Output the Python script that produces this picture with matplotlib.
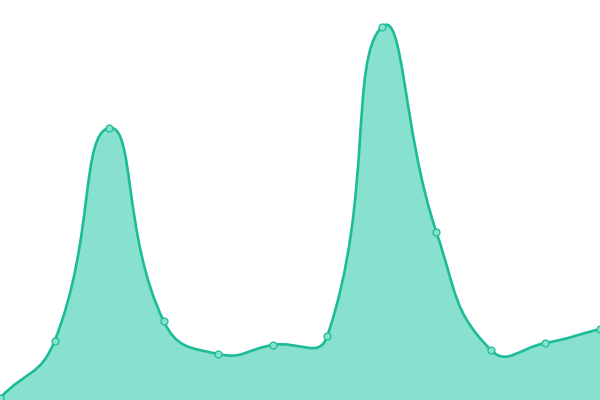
import numpy as np
import matplotlib
matplotlib.use("Agg")
import matplotlib.pyplot as plt
from matplotlib.path import Path
from matplotlib.patches import PathPatch

# data
x_vals = list(range(12))
y_vals = [2, 59, 272, 79, 46, 55, 64, 373, 168, 50, 57, 71]

line_color = "#1dbc97"
fill_color = "#88e0cf"
smooth = 0.5

fig = plt.figure(figsize=(6, 4), dpi=100)
ax = fig.add_axes([0, 0, 1, 1])
ax.set_xlim(0, 11)
ax.set_ylim(0, 400)
ax.axis("off")

# pixel scale so the smoothing is done in screen space
sx = 600 / 11
sy = 400 / 400
pts = np.array([[x * sx, y * sy] for x, y in zip(x_vals, y_vals)])

# control points, echarts style bezier smoothing
n = len(pts)
cp_in = pts.copy()
cp_out = pts.copy()
for i in range(n):
    prev = pts[i - 1] if i > 0 else pts[i]
    nxt = pts[i + 1] if i < n - 1 else pts[i]
    v = nxt - prev
    d0 = np.hypot(*(pts[i] - prev))
    d1 = np.hypot(*(nxt - pts[i]))
    if d0 + d1 == 0:
        continue
    r = d1 / (d0 + d1)
    cp_in[i] = pts[i] - v * smooth * (1 - r)
    cp_out[i] = pts[i] + v * smooth * r

verts = [pts[0]]
codes = [Path.MOVETO]
for i in range(n - 1):
    verts += [cp_out[i], cp_in[i + 1], pts[i + 1]]
    codes += [Path.CURVE4] * 3
verts = np.array(verts) / np.array([sx, sy])

line_path = Path(verts, codes)
area_verts = np.vstack([verts, [[x_vals[-1], 0], [x_vals[0], 0], verts[0]]])
area_codes = codes + [Path.LINETO, Path.LINETO, Path.CLOSEPOLY]
area_path = Path(area_verts, area_codes)

ax.add_patch(PathPatch(area_path, facecolor=fill_color, edgecolor="none", zorder=1))
ax.add_patch(PathPatch(line_path, facecolor="none", edgecolor=line_color, lw=1.9, zorder=2))
ax.plot(x_vals, y_vals, "o", ms=5, mfc=fill_color, mec=line_color, mew=0.9, zorder=3, clip_on=False)

fig.savefig("out.png", dpi=100)
